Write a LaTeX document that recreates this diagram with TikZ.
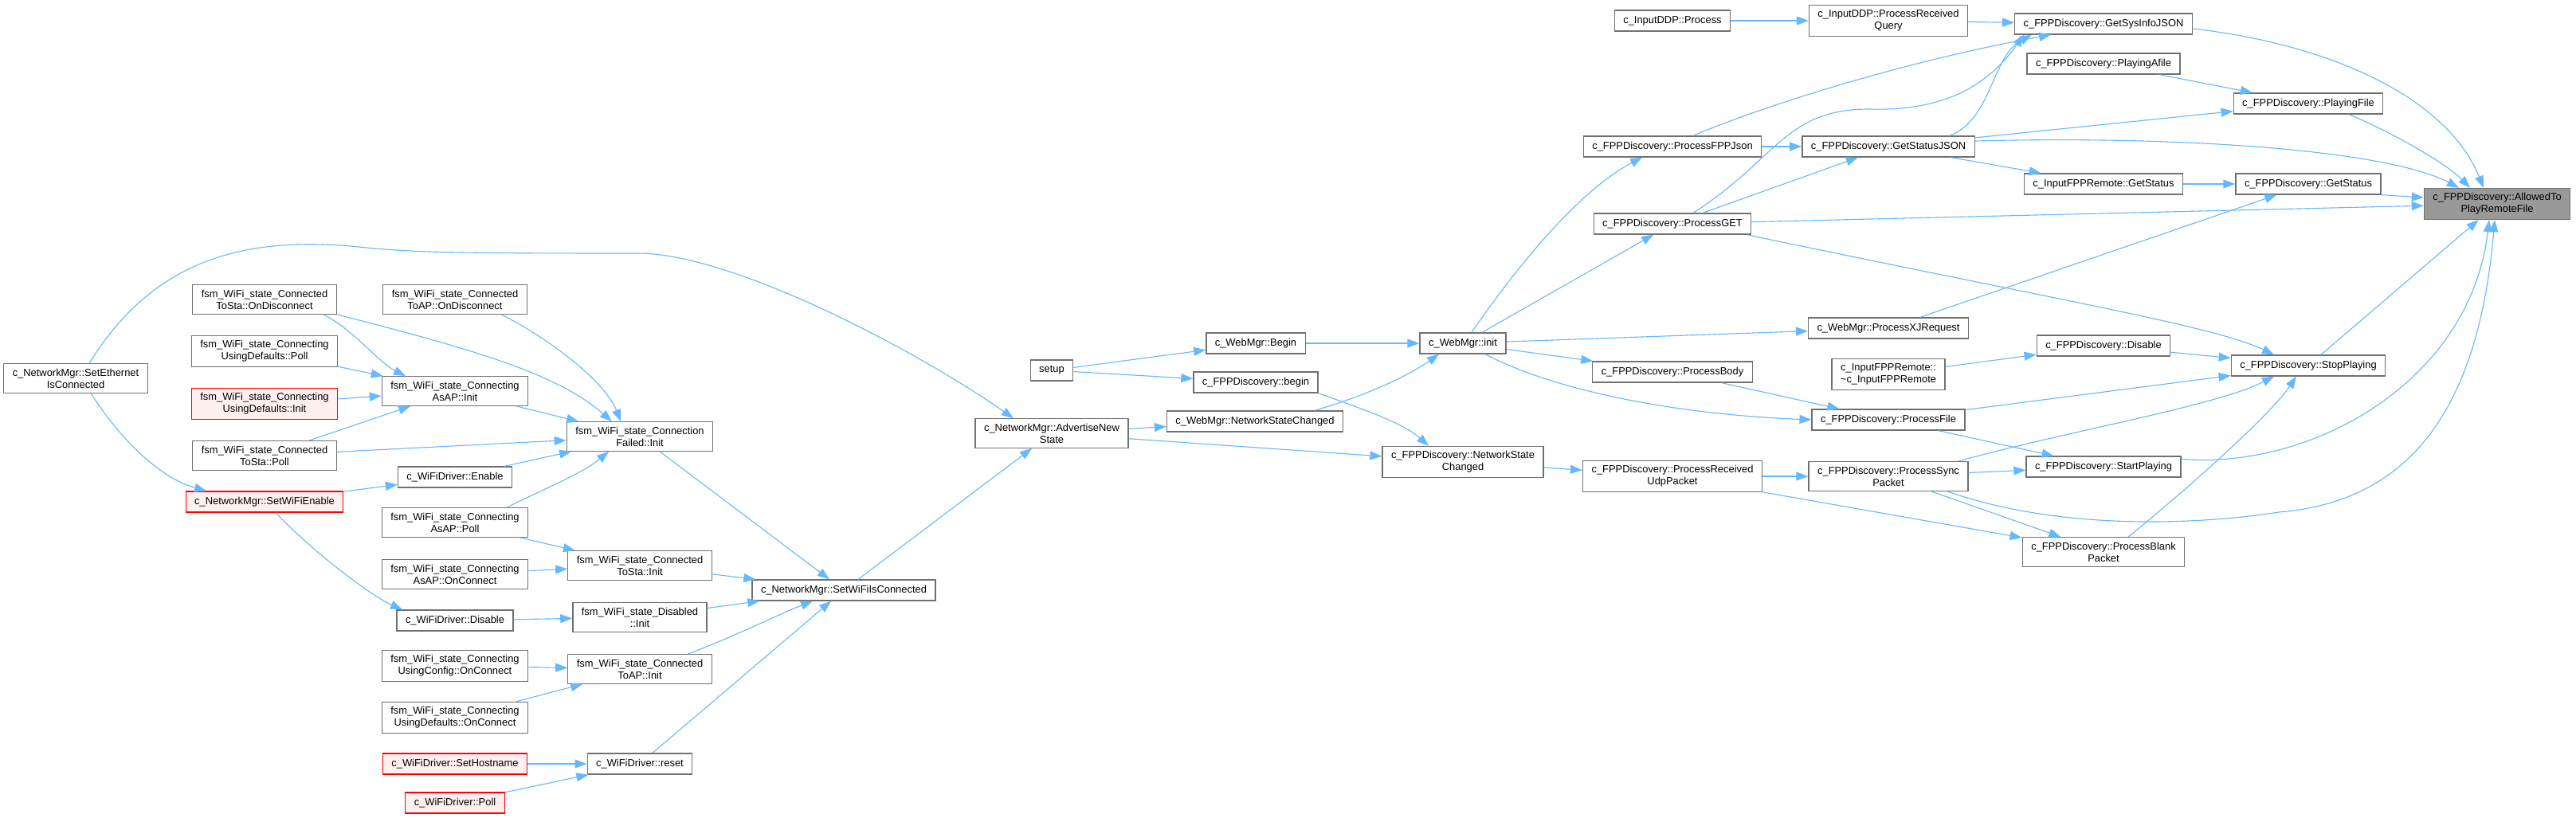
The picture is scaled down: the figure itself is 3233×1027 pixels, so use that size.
\documentclass[tikz,border=0pt]{standalone}
\usepackage{fontspec}
\setmainfont{Liberation Sans}
\usetikzlibrary{arrows.meta}
\definecolor{edgeblue}{HTML}{63B8FF}
\definecolor{boxgray}{HTML}{707070}
\definecolor{focusgray}{HTML}{999999}
\definecolor{redfill}{HTML}{FFF0F0}

\begin{document}
\begin{tikzpicture}[x=1pt, y=-1pt,
  every node/.style={font=\fontsize{12.9}{15}\selectfont},
  fn/.style={draw=boxgray, line width=1.3pt, fill=white, inner xsep=11pt, inner ysep=6pt, minimum height=26pt, align=center},
  fnred/.style={fn, draw=red, fill=redfill},
  fnfocus/.style={fn, fill=focusgray},
  call/.style={draw=edgeblue, line width=1.1pt, -{Triangle[length=15pt,width=11pt]}}]
				% 0. 画布
				\path[use as bounding box, fill=white] (0,0) rectangle (3233,1027);
				
				% 1. 左侧 WiFi 状态机节点
				\node[fn] (setEth) at (95,475) {c\_NetworkMgr::SetEthernet\\IsConnected};
				\node[fn] (staDisc) at (332,376) {fsm\_WiFi\_state\_Connected\\ToSta::OnDisconnect};
				\node[fn] (defPoll) at (332,441) {fsm\_WiFi\_state\_Connecting\\UsingDefaults::Poll};
				\node[fnred] (defInit) at (332,507) {fsm\_WiFi\_state\_Connecting\\UsingDefaults::Init};
				\node[fn] (staPoll) at (332,572) {fsm\_WiFi\_state\_Connected\\ToSta::Poll};
				\node[fnred] (wifiEn) at (332,630) {c\_NetworkMgr::SetWiFiEnable};
				\node[fn] (apDisc) at (571,376) {fsm\_WiFi\_state\_Connected\\ToAP::OnDisconnect};
				\node[fn] (apInit) at (571,491) {fsm\_WiFi\_state\_Connecting\\AsAP::Init};
				\node[fn] (drvEn) at (571,599) {c\_WiFiDriver::Enable};
				\node[fn] (apPoll) at (571,656) {fsm\_WiFi\_state\_Connecting\\AsAP::Poll};
				\node[fn] (apConn) at (571,721) {fsm\_WiFi\_state\_Connecting\\AsAP::OnConnect};
				\node[fn] (drvDis) at (571,779) {c\_WiFiDriver::Disable};
				\node[fn] (cfgConn) at (571,836) {fsm\_WiFi\_state\_Connecting\\UsingConfig::OnConnect};
				\node[fn] (defConn) at (571,901) {fsm\_WiFi\_state\_Connecting\\UsingDefaults::OnConnect};
				\node[fnred] (hostNm) at (571,959) {c\_WiFiDriver::SetHostname};
				\node[fnred] (drvPoll) at (571,1008) {c\_WiFiDriver::Poll};
				\node[fn] (failInit) at (803,548) {fsm\_WiFi\_state\_Connection\\Failed::Init};
				\node[fn] (staInit) at (803,710) {fsm\_WiFi\_state\_Connected\\ToSta::Init};
				\node[fn] (disInit) at (803,775) {fsm\_WiFi\_state\_Disabled\\::Init};
				\node[fn] (toApInit) at (803,840) {fsm\_WiFi\_state\_Connected\\ToAP::Init};
				\node[fn] (drvReset) at (803,959) {c\_WiFiDriver::reset};
				\node[fn] (wifiConn) at (1059,741) {c\_NetworkMgr::SetWiFiIsConnected};
				
				% 2. 中部 WebMgr / FPPDiscovery 节点
				\node[fn] (advState) at (1320,544) {c\_NetworkMgr::AdvertiseNew\\State};
				\node[fn] (setup) at (1320,465) {setup};
				\node[fn] (webBegin) at (1576,431) {c\_WebMgr::Begin};
				\node[fn] (fppBegin) at (1576,480) {c\_FPPDiscovery::begin};
				\node[fn] (webNet) at (1575,529) {c\_WebMgr::NetworkStateChanged};
				\node[fn] (webInit) at (1836,431) {c\_WebMgr::init};
				\node[fn] (fppNet) at (1836,580) {c\_FPPDiscovery::NetworkState\\Changed};
				\node[fn] (ddpProc) at (2099,26) {c\_InputDDP::Process};
				\node[fn] (fppJson) at (2099,184) {c\_FPPDiscovery::ProcessFPPJson};
				\node[fn] (procGet) at (2099,281) {c\_FPPDiscovery::ProcessGET};
				\node[fn] (procBody) at (2099,467) {c\_FPPDiscovery::ProcessBody};
				\node[fn] (procUdp) at (2099,598) {c\_FPPDiscovery::ProcessReceived\\UdpPacket};
				
				% 3. 右侧节点
				\node[fn] (ddpQuery) at (2370,26) {c\_InputDDP::ProcessReceived\\Query};
				\node[fn] (statJson) at (2370,184) {c\_FPPDiscovery::GetStatusJSON};
				\node[fn] (xjReq) at (2370,412) {c\_WebMgr::ProcessXJRequest};
				\node[fn] (remDtor) at (2370,470) {c\_InputFPPRemote::\\\textasciitilde c\_InputFPPRemote};
				\node[fn] (procFile) at (2370,527) {c\_FPPDiscovery::ProcessFile};
				\node[fn] (procSync) at (2370,598) {c\_FPPDiscovery::ProcessSync\\Packet};
				\node[fn] (sysInfo) at (2640,30) {c\_FPPDiscovery::GetSysInfoJSON};
				\node[fn] (playAfile) at (2640,80) {c\_FPPDiscovery::PlayingAfile};
				\node[fn] (remStat) at (2640,231) {c\_InputFPPRemote::GetStatus};
				\node[fn] (fppDis) at (2640,434) {c\_FPPDiscovery::Disable};
				\node[fn] (startPl) at (2640,586) {c\_FPPDiscovery::StartPlaying};
				\node[fn] (procBlank) at (2640,693) {c\_FPPDiscovery::ProcessBlank\\Packet};
				\node[fn] (playFile) at (2897,130) {c\_FPPDiscovery::PlayingFile};
				\node[fn] (getStat) at (2897,231) {c\_FPPDiscovery::GetStatus};
				\node[fn] (stopPl) at (2897,459) {c\_FPPDiscovery::StopPlaying};
				\node[fnfocus] (allowed) at (3134,256) {c\_FPPDiscovery::AllowedTo\\PlayRemoteFile};
				
				% 4. 调用边 (左侧)
				\draw[call] (defPoll) -- (apInit);
				\draw[call] (defInit) -- (apInit);
				\draw[call] (staPoll) -- (apInit);
				\draw[call] ([xshift=74pt]staDisc.south) .. controls (445,415) and (475,455) .. ([xshift=-62pt]apInit.north);
				\draw[call] (staDisc.south east) .. controls (600,440) and (700,470) .. ([xshift=-35pt]failInit.north);
				\draw[call] (staPoll) -- (failInit);
				\draw[call] ([xshift=58pt]apDisc.south) .. controls (690,425) and (760,480) .. ([xshift=-24pt]failInit.north);
				\draw[call] (apInit) -- (failInit);
				\draw[call] (drvEn) -- (failInit);
				\draw[call] ([xshift=65pt]apPoll.north) .. controls (680,615) and (730,595) .. ([xshift=-39pt]failInit.south);
				\draw[call] (apPoll) -- (staInit);
				\draw[call] (apConn) -- (staInit);
				\draw[call] ([xshift=17pt]setEth.north) .. controls (190,330) and (300,295) .. (450,310)
				  .. controls (520,317) and (560,318) .. (800,318) .. controls (920,318) and (1150,440) .. ([xshift=-48pt]advState.north);
				\draw[call] ([xshift=19pt]setEth.south) .. controls (150,550) and (200,600) .. ([xshift=-73pt]wifiEn.north);
				\draw[call] (wifiEn) -- (drvEn);
				\draw[call] ([xshift=14pt]wifiEn.south) .. controls (400,700) and (470,750) .. ([xshift=-66pt]drvDis.north);
				\draw[call] (drvDis) -- (disInit);
				\draw[call] (cfgConn) -- (toApInit);
				\draw[call] (defConn) -- (toApInit);
				\draw[call] (hostNm) -- (drvReset);
				\draw[call] (drvPoll) -- (drvReset);
				\draw[call] (failInit) -- (wifiConn);
				\draw[call] (staInit) -- ([xshift=5pt]wifiConn.north west);
				\draw[call] (disInit) -- ([xshift=10pt]wifiConn.south west);
				\draw[call] ([xshift=60pt]toApInit.north) .. controls (920,800) and (980,770) .. ([xshift=-39pt]wifiConn.south);
				\draw[call] (drvReset) -- (wifiConn);
				\draw[call] (wifiConn) -- (advState);
				
				% 5. 调用边 (中部)
				\draw[call] (advState) -- (webNet);
				\draw[call] (advState) -- (fppNet);
				\draw[call] (setup) -- (webBegin);
				\draw[call] (setup) -- (fppBegin);
				\draw[call] (webBegin) -- (webInit);
				\draw[call] (fppBegin.south east) .. controls (1700,510) and (1760,530) .. ([xshift=-43pt]fppNet.north);
				\draw[call] ([xshift=75pt]webNet.north) .. controls (1720,495) and (1770,470) .. ([xshift=-30pt]webInit.south);
				\draw[call] ([xshift=11pt]webInit.north) .. controls (1900,340) and (1980,240) .. ([xshift=-38pt]fppJson.south);
				\draw[call] (webInit) -- (procGet);
				\draw[call] (webInit) -- (xjReq);
				\draw[call] (webInit) -- (procBody);
				\draw[call] ([xshift=28pt]webInit.south) .. controls (1950,490) and (2100,520) .. (procFile.west);
				\draw[call] (fppNet) -- (procUdp);
				\draw[call] (procBody) -- (procFile);
				\draw[call] (procUdp) -- (procSync);
				\draw[call] (procUdp) -- (procBlank);
				
				% 6. 调用边 (右侧)
				\draw[call] (ddpProc) -- (ddpQuery);
				\draw[call] (ddpQuery) -- (sysInfo);
				\draw[call] ([xshift=26pt]fppJson.north) .. controls (2220,130) and (2400,75) .. ([xshift=-66pt]sysInfo.south);
				\draw[call] (fppJson) -- (statJson);
				\draw[call] ([xshift=26pt]procGet.north) .. controls (2230,200) and (2240,137) .. (2346,137)
				  .. controls (2450,140) and (2500,100) .. ([xshift=-100pt]sysInfo.south);
				\draw[call] ([xshift=77pt]statJson.north) .. controls (2500,150) and (2500,70) .. ([xshift=-90pt]sysInfo.south);
				\draw[call] (procGet) -- (statJson);
				\draw[call] (procGet) -- (allowed);
				\draw[call] ([xshift=93pt]procGet.south) .. controls (2600,380) and (2780,410) .. ([xshift=-43pt]stopPl.north);
				\draw[call] (statJson) -- (playFile);
				\draw[call] ([yshift=7pt]statJson.east) .. controls (2750,170) and (3000,190) .. ([xshift=-48pt]allowed.north);
				\draw[call] (statJson) -- (remStat);
				\draw[call] (playAfile) -- (playFile);
				\draw[call] ([xshift=51pt]playFile.south) .. controls (3000,165) and (3070,205) .. ([xshift=-34pt]allowed.north);
				\draw[call] ([yshift=-6pt]sysInfo.east) .. controls (2920,55) and (3070,120) .. ([xshift=-17pt]allowed.north);
				\draw[call] (remStat) -- (getStat);
				\draw[call] (getStat.south east) -- ([yshift=8pt]allowed.west);
				\draw[call] (xjReq) -- (getStat);
				\draw[call] (remDtor) -- (fppDis);
				\draw[call] (fppDis) -- (stopPl);
				\draw[call] (stopPl) -- (allowed);
				\draw[call] ([yshift=-4pt]startPl.north east) .. controls (2900,590) and (3100,480) .. ([xshift=-10pt]allowed.south);
				\draw[call] ([xshift=74pt]procSync.south) .. controls (2580,665) and (2750,660) .. (2860,643)
				  .. controls (3020,630) and (3110,520) .. ([xshift=-3pt]allowed.south);
				\draw[call] (procSync) -- (startPl);
				\draw[call] ([xshift=87pt]procSync.north) .. controls (2600,540) and (2780,510) .. ([xshift=-43pt]stopPl.south);
				\draw[call] (procSync) -- (procBlank);
				\draw[call] (procFile) -- (stopPl);
				\draw[call] (procFile) -- (startPl);
				\draw[call] ([xshift=31pt]procBlank.north) .. controls (2750,610) and (2850,520) .. ([xshift=-15pt]stopPl.south);
			\end{tikzpicture}
\end{document}
